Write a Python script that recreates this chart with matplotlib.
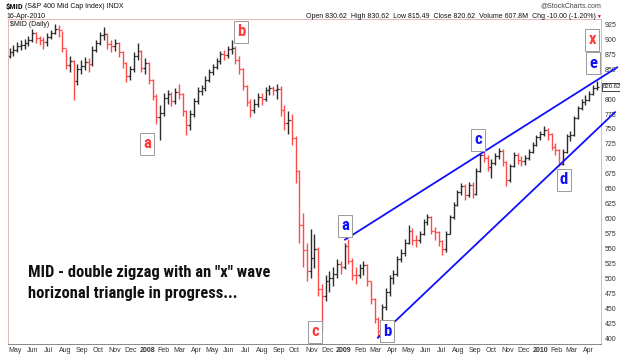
import matplotlib
matplotlib.use("Agg")
import matplotlib.pyplot as plt
from matplotlib import font_manager as fm
import pandas as pd

W, H = 620, 355
INK, RED, BLUE = "#111111", "#ff3b3b", "#1010ff"

# weekly bars ($MID, week ending Friday)
weeks = pd.date_range("2007-04-20", "2010-04-16", freq="W-FRI")
close = [878, 882, 888, 890, 893, 898, 910, 902, 899, 895,
         903, 911, 918, 916, 885, 857, 864, 830, 850, 856,
         862, 858, 882, 893, 907, 908, 892, 888, 893, 878,
         860, 838, 850, 872, 880, 852, 860, 832, 805, 770,
         777, 802, 808, 797, 812, 808, 780, 756, 775, 796,
         814, 818, 832, 845, 853, 863, 875, 874, 884, 885,
         866, 850, 822, 795, 782, 792, 803, 800, 815, 818,
         815, 817, 782, 760, 765, 735, 680, 590, 548, 512,
         535, 550, 482, 470, 495, 500, 508, 525, 520, 555,
         530, 506, 505, 518, 522, 495, 465, 432, 412, 452,
         478, 500, 508, 533, 543, 560, 580, 565, 564, 574,
         595, 602, 580, 578, 562, 550, 575, 602, 623, 644,
         654, 640, 656, 642, 680, 706, 702, 687, 693, 704,
         713, 695, 665, 688, 707, 698, 697, 701, 712, 724,
         736, 742, 749, 742, 720, 714, 692, 712, 738, 740,
         768, 785, 795, 799, 808, 818, 820.62]
high = [886, 890, 895, 898, 900, 906, 918, 912, 906, 904,
        910, 916, 926, 924, 914, 884, 872, 866, 858, 866,
        870, 868, 888, 898, 912, 920, 910, 898, 900, 896,
        880, 862, 856, 878, 893, 882, 868, 862, 834, 808,
        790, 810, 816, 812, 818, 826, 810, 782, 782, 802,
        820, 824, 838, 850, 858, 868, 880, 882, 888, 898,
        888, 872, 852, 824, 800, 800, 810, 810, 820, 824,
        822, 826, 822, 790, 780, 775, 738, 682, 610, 560,
        582, 575, 552, 490, 505, 512, 520, 532, 530, 560,
        566, 534, 520, 524, 530, 524, 496, 468, 436, 458,
        484, 506, 514, 538, 550, 566, 590, 584, 572, 580,
        600, 607, 604, 586, 580, 565, 580, 606, 628, 648,
        660, 658, 662, 662, 684, 710, 713, 706, 700, 710,
        718, 716, 696, 692, 712, 710, 704, 706, 716, 728,
        740, 746, 755, 752, 744, 726, 716, 716, 742, 746,
        772, 788, 800, 806, 814, 824, 830.62]
low = [868, 872, 878, 882, 884, 888, 896, 894, 890, 884,
       888, 900, 908, 904, 878, 850, 846, 798, 824, 842,
       848, 846, 856, 878, 890, 898, 884, 878, 880, 870,
       852, 828, 832, 846, 866, 846, 842, 826, 798, 758,
       732, 772, 792, 788, 792, 800, 772, 740, 748, 770,
       792, 806, 814, 828, 840, 850, 858, 866, 868, 876,
       858, 842, 815, 788, 770, 776, 786, 790, 796, 806,
       806, 800, 772, 748, 742, 724, 660, 560, 520, 495,
       500, 518, 470, 410, 462, 478, 488, 500, 508, 515,
       524, 498, 490, 500, 506, 488, 458, 425, 400, 408,
       448, 470, 490, 504, 528, 538, 558, 556, 552, 560,
       572, 590, 575, 565, 555, 540, 545, 574, 600, 622,
       640, 632, 636, 634, 640, 678, 694, 680, 668, 690,
       700, 688, 654, 662, 686, 692, 688, 690, 698, 710,
       722, 732, 738, 732, 714, 706, 688, 690, 710, 730,
       738, 766, 782, 790, 796, 806, 815.49]
opens = [872] + close[:-1]

# triangle boundary lines (date, price)
upper_line = (["2009-01-03", "2010-05-24"], [565, 853])
lower_line = (["2009-03-05", "2010-05-20"], [401, 778])

# 825 is hidden behind the last-price box on the original
price_ticks = [p for p in range(400, 926, 25) if p != 825]
month_starts = pd.date_range("2007-05-01", "2010-04-01", freq="MS")

# narrow face for the hand-written notes, if one is installed
have = {f.name for f in fm.fontManager.ttflist}
NARROW = [f for f in ("Liberation Sans Narrow", "Roboto Condensed", "DejaVu Sans Condensed",
                      "Open Sans Condensed", "Liberation Sans") if f in have] or ["DejaVu Sans"]

plt.rcParams.update({"font.family": ["Liberation Sans", "DejaVu Sans"]})
fig = plt.figure(figsize=(W / 100, H / 100), dpi=100, facecolor="white")


def px(x, y):
    return x / W, 1 - y / H


ax = fig.add_axes([8 / W, 1 - 344 / H, 593 / W, 324.7 / H])
ax.set_ylim(390.4, 933.4)
ax.set_xlim(pd.Timestamp("2007-04-17"), pd.Timestamp("2010-04-24"))

cols = ["#ff4a4a" if c < o else "#2b2b2b" for c, o in zip(close, opens)]
tick = pd.Timedelta(days=3.5)
ax.vlines(weeks, low, high, colors=cols, lw=1.0)
ax.hlines(opens, weeks - tick, weeks, colors=cols, lw=0.9)
ax.hlines(close, weeks, weeks + tick, colors=cols, lw=0.9)

for xs, ys in (upper_line, lower_line):
    ax.plot(pd.to_datetime(xs), ys, color=BLUE, lw=1.3, clip_on=False, zorder=3)

# axes styling
ax.yaxis.tick_right()
ax.set_yticks(price_ticks)
ax.set_yticklabels([str(p) for p in price_ticks], fontsize=5, color="#333333")
ax.tick_params(axis="y", length=0, pad=2.5)
ax.set_xticks(month_starts)
ax.set_xticklabels([str(d.year) if d.month == 1 else d.strftime("%b") for d in month_starts],
                   fontsize=5, color="#333333")
for lab, d in zip(ax.get_xticklabels(), month_starts):
    if d.month == 1:
        lab.set_fontweight("bold")
ax.tick_params(axis="x", length=0, pad=2)
for s in ("top", "left"):
    ax.spines[s].set_color("#e8b4b4")
    ax.spines[s].set_linestyle((0, (1, 1)))
    ax.spines[s].set_linewidth(0.7)
ax.spines["right"].set_color("#bbbbbb")
ax.spines["right"].set_linewidth(0.6)
ax.spines["bottom"].set_color("#888888")
ax.spines["bottom"].set_linewidth(0.7)

# header
fig.text(*px(6, 7), "$MID", fontsize=6, fontweight="bold", family=NARROW, va="center", color=INK)
fig.text(*px(25, 7), "(S&P 400 Mid Cap Index) INDX", fontsize=5, va="center", color=INK)
fig.text(*px(6, 16), "16-Apr-2010", fontsize=5, va="center", color=INK)
fig.text(*px(601, 6), "@StockCharts.com", fontsize=5, va="center", ha="right", color="#444444")
fig.text(*px(596, 16), "Open 830.62  High 830.62  Low 815.49  Close 820.62  Volume 607.8M  "
         "Chg -10.00 (-1.20%)", fontsize=5, va="center", ha="right", color=INK)
fig.text(*px(601, 16), "\u25bc", fontsize=3.5, va="center", ha="right", color="#cc0000")
fig.text(*px(10, 24), "$MID (Daily)", fontsize=5, va="center", color=INK)
fig.text(*px(603, 87), "820.62", fontsize=4.3, va="center", color=INK,
         bbox=dict(boxstyle="square,pad=0.2", fc="white", ec="#222222", lw=0.6))

# wave labels
waves = [("a", 147, 144, RED), ("b", 241, 32, RED), ("c", 315, 332, RED),
         ("x", 592, 40, RED), ("a", 345, 226, BLUE), ("b", 387, 331, BLUE),
         ("c", 478, 140, BLUE), ("d", 564, 180, BLUE), ("e", 593, 63, BLUE)]
for s, x, y, c in waves:
    fig.text(*px(x, y), s, fontsize=12, fontweight="bold", family=NARROW, color=c,
             ha="center", va="center", zorder=6,
             bbox=dict(boxstyle="square,pad=0.2", fc="white", ec="#999999", lw=0.7))

# the note, one text per line; line 1 squeezed to ~242 px as on the original
line1 = fig.text(*px(28, 277), 'MID - double zigzag with an "x" wave', fontsize=15,
                 fontweight="bold", family=NARROW, color=INK, va="baseline")
r = fig.canvas.get_renderer()
fs = 15 * min(1.0, 242 / line1.get_window_extent(r).width)
line1.set_fontsize(fs)
fig.text(*px(28, 298), "horizonal triangle in progress...", fontsize=fs,
         fontweight="bold", family=NARROW, color=INK, va="baseline")

fig.savefig("out.png", dpi=100, facecolor="white")
